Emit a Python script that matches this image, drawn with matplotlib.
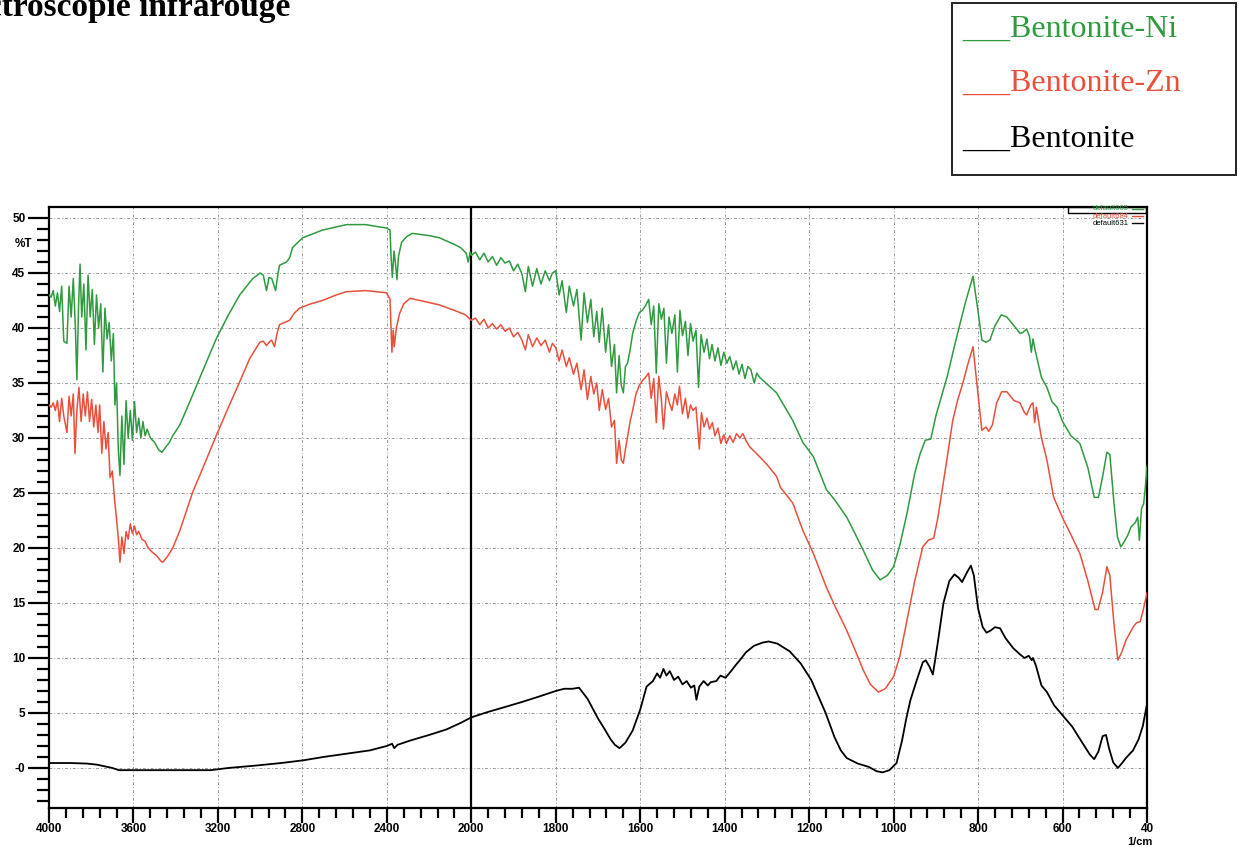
import numpy as np
import matplotlib
matplotlib.use("Agg")
import matplotlib.pyplot as plt
from matplotlib.ticker import FixedLocator
from matplotlib.patches import Rectangle

# Bentonite-Ni (green)
ni_wn = [4000, 3990, 3980, 3970, 3960, 3950, 3940, 3930, 3915, 3905, 3895, 3885, 3875, 3868,
         3860, 3853, 3845, 3835, 3825, 3815, 3805, 3795, 3785, 3775, 3765, 3755, 3745, 3735,
         3725, 3715, 3705, 3695, 3688, 3680, 3672, 3664, 3655, 3645, 3635, 3625, 3615, 3605,
         3595, 3585, 3575, 3565, 3555, 3545, 3535, 3520, 3500, 3480, 3465, 3450, 3430, 3414,
         3380, 3333, 3270, 3206, 3150, 3097, 3035, 3000, 2985, 2970, 2958, 2945, 2927, 2915,
         2908, 2875, 2860, 2847, 2820, 2799, 2705, 2591, 2500, 2440, 2402, 2385, 2380, 2374,
         2366, 2360, 2352, 2345, 2330, 2307, 2279, 2200, 2151, 2080, 2050, 2024, 2015, 2005,
         2000, 1990, 1980, 1970, 1960, 1950, 1940, 1930, 1920, 1910, 1900, 1890, 1880, 1872,
         1865, 1855, 1845, 1835, 1825, 1815, 1808, 1800, 1792, 1785, 1775, 1768, 1758, 1750,
         1740, 1733, 1725, 1717, 1710, 1703, 1697, 1690, 1682, 1675, 1668, 1661, 1656, 1650,
         1645, 1640, 1635, 1630, 1624, 1618, 1610, 1602, 1595, 1588, 1580, 1574, 1568, 1562,
         1556, 1550, 1544, 1538, 1532, 1525, 1518, 1512, 1506, 1500, 1493, 1487, 1481, 1475,
         1468, 1462, 1456, 1449, 1442, 1436, 1430, 1423, 1416, 1409, 1402, 1395, 1388, 1380,
         1373, 1366, 1359, 1352, 1345, 1338, 1330, 1324, 1317, 1300, 1277, 1268, 1239, 1215,
         1190, 1159, 1140, 1111, 1090, 1072, 1050, 1032, 1015, 1000, 985, 968, 950, 937,
         925, 912, 900, 873, 855, 842, 828, 812, 800, 791, 781, 772, 760, 745, 732, 715,
         700, 694, 685, 678, 674, 670, 665, 650, 637, 625, 613, 600, 580, 559, 540, 525,
         515, 505, 495, 488, 478, 470, 462, 455, 445, 438, 428, 422, 418, 413, 408, 404, 400]
ni_t = [43.0, 42.8, 43.4, 42.0, 43.2, 41.5, 43.8, 38.8, 38.6, 43.8, 41.0, 44.5, 40.0, 35.3,
        42.0, 45.8, 41.0, 44.0, 38.0, 44.8, 41.0, 43.5, 38.5, 43.0, 40.0, 42.2, 36.0, 41.8,
        39.0, 40.5, 37.0, 39.5, 33.0, 35.0, 29.0, 26.6, 32.0, 27.6, 33.4, 30.0, 32.5, 29.8,
        33.3, 30.5, 31.8, 30.0, 31.5, 30.2, 30.8, 30.0, 29.6, 28.9, 28.7, 29.1, 29.6, 30.2,
        31.2, 33.3, 36.2, 39.1, 41.2, 43.0, 44.5, 45.0, 44.8, 43.4, 44.6, 44.5, 43.4, 45.0,
        45.7, 46.0, 46.4, 47.3, 47.8, 48.2, 48.9, 49.4, 49.4, 49.2, 49.1, 48.9, 46.5, 44.6,
        47.0, 46.0, 44.4, 46.5, 47.8, 48.3, 48.6, 48.4, 48.2, 47.6, 47.3, 46.8, 46.0, 46.9,
        46.6, 46.9, 46.2, 46.8, 46.0, 46.5, 45.7, 46.4, 45.9, 46.1, 45.2, 45.8, 44.9, 43.3,
        45.6, 43.8, 45.4, 44.0, 45.2, 44.3, 45.0, 45.2, 43.0, 44.3, 41.4, 43.8, 42.0, 43.5,
        38.9, 43.2, 40.5, 42.6, 39.2, 41.5, 38.7, 41.8, 37.8, 40.3, 36.5, 38.5, 34.1, 37.5,
        34.8, 34.1, 36.5, 36.8, 38.0, 39.5, 40.6, 41.4, 41.6, 42.0, 42.6, 40.3, 42.0, 35.9,
        42.2, 40.8, 41.8, 36.8, 41.0, 39.5, 41.2, 36.0, 41.6, 39.3, 40.6, 37.5, 40.4, 38.8,
        39.8, 34.6, 39.4, 37.8, 39.0, 37.2, 38.5, 37.0, 38.2, 36.6, 37.8, 36.8, 37.4, 36.2,
        37.0, 35.8, 36.7, 35.4, 36.5, 36.2, 35.0, 35.9, 35.5, 34.9, 34.1, 33.5, 31.6, 29.6,
        28.3, 25.3, 24.4, 22.8, 21.2, 19.8, 18.0, 17.1, 17.5, 18.3, 20.3, 23.2, 26.8, 28.6,
        29.8, 29.9, 32.0, 35.6, 38.5, 40.5, 42.6, 44.7, 41.5, 38.9, 38.7, 38.9, 40.2, 41.2,
        41.0, 40.2, 39.5, 39.6, 39.9, 39.2, 37.8, 39.0, 38.0, 35.5, 34.6, 33.3, 32.8, 31.5,
        30.2, 29.5, 27.3, 24.6, 24.6, 26.5, 28.7, 28.5, 24.0, 21.0, 20.1, 20.5, 21.2, 21.9,
        22.3, 22.8, 20.7, 23.6, 24.0, 25.5, 27.4]

# Bentonite-Zn (red)
zn_wn = [4000, 3990, 3980, 3970, 3960, 3950, 3940, 3930, 3915, 3905, 3895, 3885, 3877, 3868,
         3858, 3848, 3838, 3828, 3818, 3808, 3798, 3788, 3778, 3768, 3760, 3750, 3740, 3730,
         3720, 3711, 3700, 3690, 3679, 3670, 3664, 3655, 3645, 3635, 3625, 3615, 3605, 3595,
         3585, 3575, 3560, 3545, 3530, 3510, 3490, 3470, 3461, 3440, 3414, 3380, 3319, 3260,
         3206, 3150, 3097, 3050, 3002, 2985, 2970, 2958, 2946, 2932, 2920, 2908, 2861, 2840,
         2814, 2760, 2705, 2640, 2591, 2500, 2402, 2385, 2376, 2370, 2365, 2355, 2340, 2320,
         2290, 2151, 2080, 2028,
         2000, 1990, 1980, 1970, 1960, 1950, 1940, 1930, 1920, 1910, 1900, 1890, 1880, 1872,
         1865, 1855, 1845, 1835, 1825, 1815, 1808, 1800, 1792, 1785, 1775, 1768, 1758, 1750,
         1740, 1733, 1725, 1717, 1710, 1703, 1697, 1690, 1682, 1675, 1668, 1661, 1656, 1650,
         1645, 1640, 1635, 1630, 1624, 1618, 1610, 1602, 1595, 1588, 1580, 1574, 1568, 1562,
         1556, 1550, 1545, 1538, 1531, 1525, 1518, 1512, 1507, 1500, 1493, 1487, 1481, 1475,
         1468, 1460, 1455, 1449, 1442, 1436, 1429, 1423, 1416, 1409, 1402, 1396, 1388, 1380,
         1372, 1364, 1357, 1350, 1341, 1325, 1300, 1277, 1268, 1239, 1215, 1190, 1160, 1140,
         1111, 1090, 1072, 1055, 1036, 1020, 1000, 985, 968, 950, 931, 918, 905, 895,
         884, 872, 860, 848, 836, 825, 812, 803, 791, 781, 775, 766, 756, 744,
         732, 715, 701, 690, 685, 675, 670, 666, 662, 650, 637, 621, 597, 580,
         559, 540, 523, 516, 505, 495, 488, 478, 469, 460, 450, 440, 433, 425,
         416, 410, 404, 400]
zn_t = [33.0, 32.8, 33.2, 32.5, 33.4, 31.5, 33.6, 32.0, 30.5, 33.8, 32.0, 34.0, 28.6, 32.5,
        34.6, 31.5, 34.0, 32.0, 34.2, 31.5, 33.5, 31.0, 33.0, 30.5, 33.0, 28.6, 31.5, 29.0,
        30.5, 26.4, 27.0, 24.5, 22.4, 20.5, 18.7, 21.0, 19.5, 21.5, 20.8, 22.2, 21.3, 22.0,
        21.2, 21.5, 20.8, 20.6, 20.0, 19.6, 19.3, 18.8, 18.7, 19.2, 20.0, 21.6, 25.1, 27.8,
        30.3, 32.8, 35.1, 37.2, 38.7, 38.8, 38.4, 38.7, 38.9, 38.3, 39.5, 40.3, 40.7, 41.3,
        41.8, 42.2, 42.5, 43.0, 43.3, 43.4, 43.2, 42.6, 37.8, 39.8, 38.3, 40.0, 41.3, 42.2,
        42.7, 42.1, 41.6, 41.2,
        40.7, 40.9, 40.3, 40.8, 40.0, 40.4, 39.9, 40.3, 39.7, 40.0, 39.2, 39.6, 38.9, 38.0,
        39.4, 38.3, 39.1, 38.4, 38.9, 37.8, 38.6, 38.2, 37.0, 38.0, 36.5, 37.3, 35.8, 36.8,
        34.4, 36.2, 33.5, 35.6, 34.0, 35.0, 32.5, 34.4, 32.6, 33.6, 31.0, 31.6, 27.7, 29.8,
        28.0, 27.7, 29.0, 30.1, 31.5, 32.5, 34.0, 34.8, 35.2, 35.5, 35.9, 33.6, 35.4, 31.4,
        35.6, 33.5, 30.8, 34.2, 33.2, 32.5, 34.0, 33.0, 34.7, 32.2, 33.6, 31.8, 33.0, 32.5,
        32.8, 29.0, 32.3, 31.0, 31.8, 30.8, 31.4, 30.2, 30.9, 29.5, 30.3, 29.5, 30.2, 29.6,
        30.4, 30.0, 30.4, 29.8, 29.2, 28.6, 27.6, 26.5, 25.5, 24.1, 21.6, 19.5, 16.5, 14.8,
        12.5, 10.6, 8.9, 7.6, 6.9, 7.2, 8.3, 10.2, 13.5, 17.0, 20.1, 20.7, 20.9, 22.8,
        25.5, 28.5, 31.6, 33.5, 35.0, 36.6, 38.3, 35.0, 30.7, 31.0, 30.6, 31.2, 33.2, 34.2,
        34.2, 33.4, 33.2, 32.3, 32.1, 33.0, 33.2, 31.4, 32.8, 30.0, 28.0, 24.6, 22.5, 21.2,
        19.5, 17.0, 14.4, 14.4, 16.0, 18.3, 17.5, 13.0, 9.8, 10.5, 11.6, 12.3, 12.8, 13.2,
        13.3, 14.2, 15.2, 15.9]

# Bentonite (black)
bent_wn = [4000, 3900, 3820, 3773, 3700, 3669, 3500, 3234, 3150, 3030, 2900, 2794, 2700, 2591,
           2480, 2400, 2375, 2365, 2350, 2288, 2200, 2118, 2050, 2000, 1960, 1924, 1880, 1839,
           1800, 1780, 1760, 1745, 1737, 1725, 1711, 1700, 1687, 1670, 1660, 1649, 1635, 1618,
           1600, 1585, 1570, 1560, 1553, 1545, 1538, 1530, 1520, 1510, 1500, 1490, 1480, 1472,
           1467, 1460, 1450, 1440, 1433, 1420, 1410, 1398, 1385, 1375, 1364, 1350, 1331, 1310,
           1296, 1275, 1246, 1220, 1195, 1178, 1161, 1140, 1125, 1111, 1085, 1059, 1040, 1026,
           1010, 993, 980, 970, 960, 945, 931, 924, 915, 907, 895, 882, 868, 856,
           846, 838, 826, 817, 810, 800, 789, 780, 770, 760, 748, 735, 717, 700,
           690, 680, 673, 670, 663, 650, 637, 620, 600, 577, 555, 535, 525, 515,
           505, 497, 490, 480, 469, 460, 450, 433, 420, 410, 400]
bent_t = [0.45, 0.45, 0.4, 0.3, 0.0, -0.2, -0.2, -0.2, 0.0, 0.2, 0.45, 0.7, 1.0, 1.3,
          1.6, 2.0, 2.2, 1.8, 2.1, 2.5, 3.0, 3.5, 4.1, 4.6, 5.1, 5.5, 6.0, 6.5,
          7.0, 7.2, 7.2, 7.3, 6.9, 6.3, 5.3, 4.5, 3.7, 2.6, 2.1, 1.8, 2.3, 3.4,
          5.3, 7.4, 7.9, 8.6, 8.2, 9.0, 8.4, 8.8, 8.0, 8.3, 7.6, 7.9, 7.3, 7.5,
          6.2, 7.4, 7.9, 7.5, 7.8, 7.9, 8.4, 8.2, 8.8, 9.3, 9.8, 10.5, 11.1, 11.4,
          11.5, 11.3, 10.6, 9.5, 8.0, 6.5, 5.0, 2.8, 1.6, 0.9, 0.4, 0.1, -0.3, -0.4,
          -0.2, 0.45, 2.5, 4.5, 6.2, 8.0, 9.6, 9.8, 9.2, 8.5, 11.5, 15.0, 17.0, 17.6,
          17.3, 16.9, 17.8, 18.4, 17.5, 14.5, 12.8, 12.3, 12.5, 12.8, 12.7, 11.8, 10.9, 10.3,
          10.0, 10.2, 9.8, 10.0, 9.3, 7.5, 6.9, 5.7, 4.8, 3.75, 2.4, 1.2, 0.8, 1.5,
          2.9, 3.0, 1.8, 0.5, 0.0, 0.4, 0.9, 1.6, 2.6, 3.8, 5.8]

xticks = [4000, 3600, 3200, 2800, 2400, 2000, 1800, 1600, 1400, 1200, 1000, 800, 600, 400]
xlabels = ["4000", "3600", "3200", "2800", "2400", "2000", "1800", "1600", "1400",
           "1200", "1000", "800", "600", "40"]
yticks = [0, 5, 10, 15, 20, 25, 30, 35, 40, 45, 50]
ylabels = ["-0", "5", "10", "15", "20", "25", "30", "35", "40", "45", "50"]

GREEN = "#2f9a3f"
RED = "#e9503c"


# below 2000 1/cm the spectrometer axis is expanded 2x
def fwd(x):
    x = np.asarray(x, dtype=float)
    return np.where(x >= 2000, x, 2 * x - 2000)


def inv(p):
    p = np.asarray(p, dtype=float)
    return np.where(p >= 2000, p, (p + 2000) / 2)


fig = plt.figure(figsize=(12.38, 8.47), dpi=100)
ax = fig.add_axes([49 / 1238, 1 - 808 / 847, 1098 / 1238, 601 / 847])
ax.set_xscale("function", functions=(fwd, inv))
ax.set_xlim(4000, 400)
ax.set_ylim(-3.64, 51.0)

tick_font = dict(family="Liberation Sans", weight="bold", size=8.5)
ax.set_xticks(xticks)
ax.set_xticklabels(xlabels, **tick_font)
ax.xaxis.set_minor_locator(FixedLocator(list(range(4000, 2000, -80)) + list(range(2000, 400, -40))))
ax.set_yticks(yticks)
ax.set_yticklabels(ylabels, **tick_font)
ax.yaxis.set_minor_locator(FixedLocator(list(range(-3, 51))))
ax.tick_params(which="major", direction="out", length=15, width=1.6, pad=2, colors="black")
ax.tick_params(axis="x", which="major", length=11, pad=0)
ax.tick_params(which="minor", direction="out", length=9, width=1.6)
ax.tick_params(axis="x", which="minor", length=7)
for s in ax.spines.values():
    s.set_linewidth(1.6)

ax.grid(True, which="major", color="#9a9a9a", linestyle=(0, (3, 2, 1, 2)), linewidth=0.7)
ax.set_axisbelow(True)
ax.axvline(2000, color="black", lw=1.6, zorder=1)

ax.plot(bent_wn, bent_t, color="black", lw=1.3, zorder=3)
ax.plot(zn_wn, zn_t, color=RED, lw=1.1, zorder=3)
ax.plot(ni_wn, ni_t, color=GREEN, lw=1.1, zorder=3)

# small instrument legend in the plot corner
small = dict(family="Liberation Sans", size=5.5, ha="right", va="center", transform=ax.transAxes)
ax.text(0.9836, 0.9967, "default665", color=GREEN, **small)
ax.text(0.9836, 0.9850, "default684", color=RED, **small)
ax.text(0.9836, 0.9733, "default631", color="black", **small)
ax.plot([0.9865, 0.9965], [0.9967, 0.9967], color=GREEN, lw=1.0, transform=ax.transAxes)
ax.plot([0.9865, 0.9965], [0.9850, 0.9850], color=RED, lw=1.0, transform=ax.transAxes)
ax.plot([0.9865, 0.9965], [0.9733, 0.9733], color="black", lw=1.0, transform=ax.transAxes)
ax.add_patch(Rectangle((0.928, 0.990), 0.071, 0.010, transform=ax.transAxes,
                       fill=False, edgecolor="black", lw=1.0, clip_on=False))

fig.text(32 / 1238, 1 - 244 / 847, "%T", ha="right", va="center", **tick_font)
fig.text(1153 / 1238, 0.0, "1/cm", ha="right", va="bottom", family="Liberation Sans",
         weight="bold", size=8)

# page title (cut at the left edge of the scan)
fig.text(290 / 1238, 1 - 16 / 847, "Spectroscopie infrarouge", ha="right", va="baseline",
         family="Liberation Serif", weight="bold", size=24)

# hand-made legend box
fig.patches.append(Rectangle((952 / 1238, 1 - 175 / 847), 284 / 1238, 172 / 847,
                             transform=fig.transFigure, fill=False, edgecolor="#222222", lw=1.4))
serif = dict(family="Liberation Serif", size=23, ha="left", va="baseline")
fig.text(962 / 1238, 1 - 37 / 847, "___Bentonite-Ni", color=GREEN, **serif)
fig.text(962 / 1238, 1 - 91 / 847, "___Bentonite-Zn", color=RED, **serif)
fig.text(962 / 1238, 1 - 147 / 847, "___Bentonite", color="black", **serif)

fig.savefig("out.png", dpi=100, facecolor="white")
